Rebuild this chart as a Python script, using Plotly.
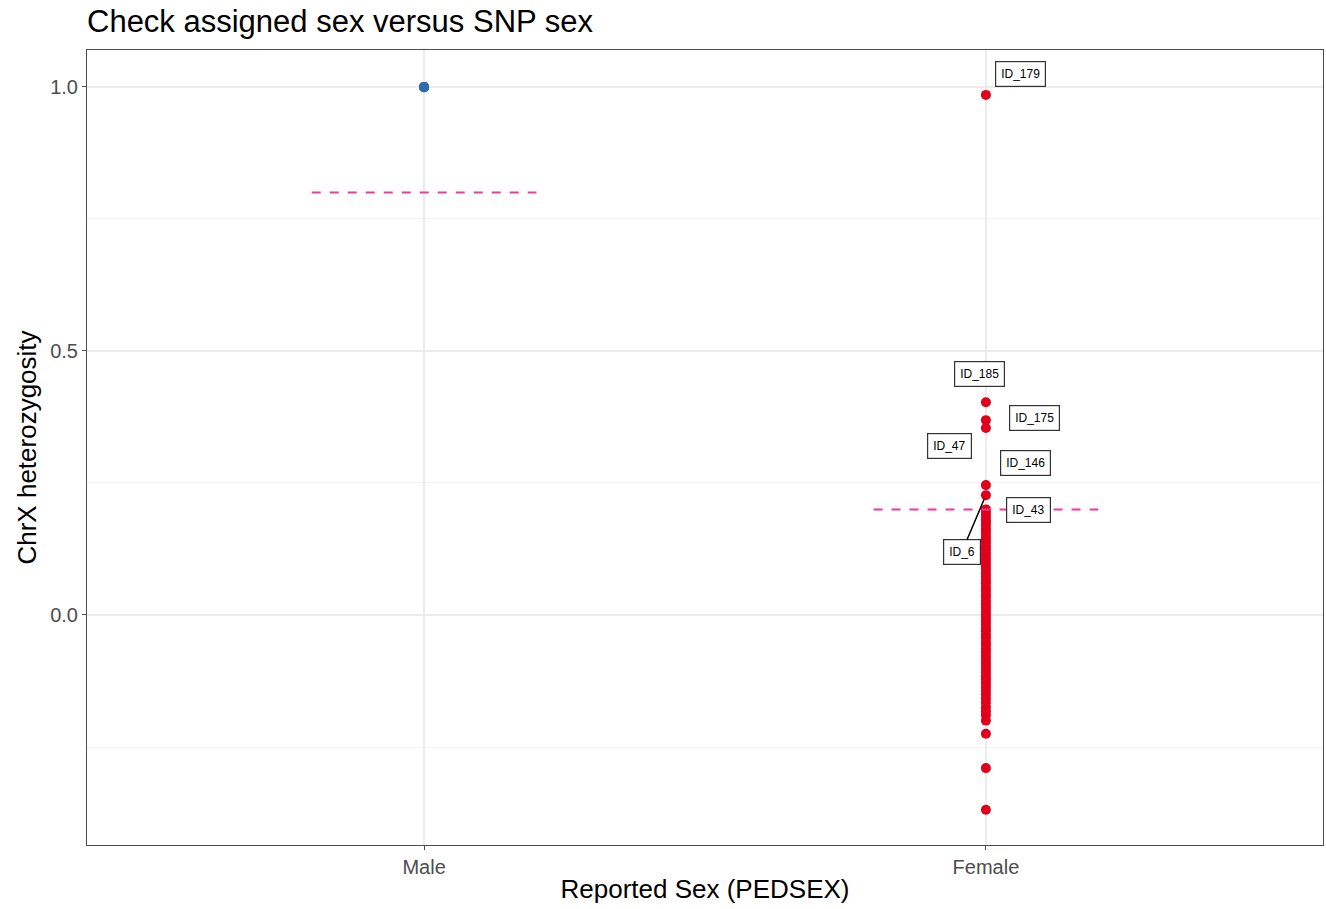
import plotly.graph_objects as go

# ---- data ----
male_het = [1.0, 1.0, 1.0, 0.999, 1.0]
female_het = [0.985, 0.403, 0.369, 0.354, 0.246, 0.227, 0.200,
              0.195, 0.188, 0.181, 0.176, 0.170, 0.163, 0.157, 0.150, 0.144,
              0.138, 0.131, 0.125, 0.118, 0.112, 0.105, 0.099, 0.092, 0.086,
              0.079, 0.073, 0.066, 0.060, 0.053, 0.047, 0.040, 0.034, 0.027,
              0.021, 0.014, 0.008, 0.001, -0.005, -0.012, -0.018, -0.025,
              -0.031, -0.038, -0.044, -0.051, -0.057, -0.064, -0.070, -0.077,
              -0.083, -0.090, -0.096, -0.103, -0.109, -0.116, -0.122, -0.129,
              -0.136, -0.143, -0.150, -0.158, -0.166, -0.175, -0.183, -0.190,
              -0.200, -0.225, -0.290, -0.369]
labels = ["ID_179", "ID_185", "ID_175", "ID_47", "ID_146", "ID_6", "ID_43"]
label_values = [0.985, 0.403, 0.369, 0.354, 0.246, 0.227, 0.200]
categories = ["Male", "Female"]
thresholds = [0.8, 0.2]

# label placement (styling)
label_pos = [(1.062, 1.025), (0.988, 0.456), (1.086, 0.373), (0.936, 0.320),
             (1.071, 0.288), (0.957, 0.119), (1.075, 0.199)]
label_arrow = [False, False, False, False, False, True, False]

fig = go.Figure()
fig.add_trace(go.Scatter(x=[0] * len(male_het), y=male_het, mode="markers",
                         marker=dict(color="#2f6db3", size=10), showlegend=False))
fig.add_trace(go.Scatter(x=[1] * len(female_het), y=female_het, mode="markers",
                         marker=dict(color="#e0001b", size=10), showlegend=False))
for i, t in enumerate(thresholds):
    fig.add_trace(go.Scatter(x=[i - 0.2, i + 0.2], y=[t, t], mode="lines",
                             line=dict(color="#ee3a9a", width=2, dash="dash"),
                             showlegend=False, hoverinfo="skip"))

lab_font = dict(size=12, color="black", family="Liberation Sans")
for lab, v, (lx, ly), arr in zip(labels, label_values, label_pos, label_arrow):
    if arr:
        fig.add_annotation(x=1, y=v, ax=lx, ay=ly, axref="x", ayref="y",
                           xref="x", yref="y", text=lab, showarrow=True,
                           arrowhead=0, arrowwidth=1.5, arrowcolor="black",
                           font=lab_font, bordercolor="#333333", borderwidth=1.2,
                           borderpad=5, bgcolor="white", standoff=4)
    else:
        fig.add_annotation(x=lx, y=ly, xref="x", yref="y", text=lab,
                           showarrow=False, font=lab_font,
                           bordercolor="#333333", borderwidth=1.2, borderpad=5,
                           bgcolor="white")

fig.update_layout(
    width=1326, height=909, autosize=False,
    paper_bgcolor="white", plot_bgcolor="white",
    margin=dict(l=87, r=3, t=50, b=64),
    title=dict(text="Check assigned sex versus SNP sex", x=87 / 1326, xanchor="left",
               y=1 - 21 / 909, yanchor="middle",
               font=dict(size=31, color="black", family="Liberation Sans")),
    font=dict(family="Liberation Sans"),
)
fig.update_xaxes(range=[-0.6, 1.6], tickvals=[0, 1], ticktext=categories,
                 showgrid=True, gridcolor="#ebebeb", gridwidth=1.5,
                 showline=True, linecolor="#4d4d4d", mirror=True, linewidth=1,
                 ticks="outside", ticklen=4, tickcolor="#4d4d4d",
                 tickfont=dict(size=20, color="#4d4d4d"), zeroline=False,
                 automargin=False,
                 title=dict(text="Reported Sex (PEDSEX)", standoff=2,
                            font=dict(size=26, color="black")))
fig.update_yaxes(range=[-0.4356, 1.070], tickvals=[0, 0.5, 1.0],
                 ticktext=["0.0", "0.5", "1.0"],
                 showgrid=True, gridcolor="#ebebeb", gridwidth=1.5,
                 minor=dict(tickvals=[-0.25, 0.25, 0.75], showgrid=True,
                            gridcolor="#f3f3f3", gridwidth=1),
                 showline=True, linecolor="#4d4d4d", mirror=True, linewidth=1,
                 ticks="outside", ticklen=4, tickcolor="#4d4d4d",
                 tickfont=dict(size=20, color="#4d4d4d"), zeroline=False,
                 automargin=False,
                 title=dict(text="ChrX heterozygosity", standoff=6,
                            font=dict(size=26, color="black")))

fig.write_html("out.html", config={"displayModeBar": False},
               post_script="document.body.style.margin='0';document.body.style.padding='0';")
